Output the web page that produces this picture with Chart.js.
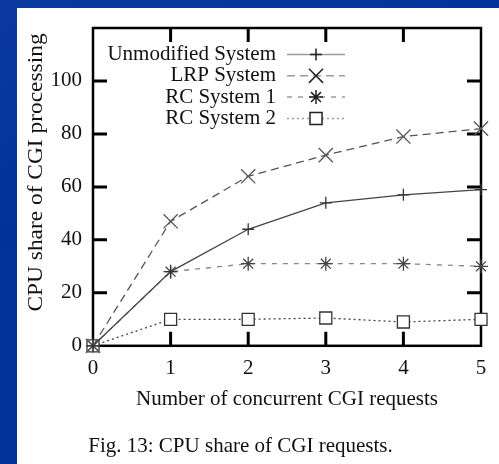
<!DOCTYPE html>
<html lang="en">
<head>
<meta charset="UTF-8">
<title>CPU share of CGI requests</title>
<script src="https://cdn.jsdelivr.net/npm/chart.js"></script>
<style>
  body {
    margin: 0;
    width: 499px;
    height: 464px;
    overflow: hidden;
    position: relative;
    background: linear-gradient(160deg, #0a3aa0 0%, #003399 35%, #00349b 100%);
  }
  .panel {
    position: absolute;
    left: 17px; top: 8px; right: 0; bottom: 0;
    background: #fff;
  }
  #cgiChart { position: absolute; left: 0; top: 0; }
</style>
</head>
<body>
<div class="panel"></div>
<canvas id="cgiChart" width="499" height="464"></canvas>
<script>
const requests = [0, 1, 2, 3, 4, 5];
const unmodified = [0, 28, 44, 54, 57, 59];
const lrp = [0, 47, 64, 72, 79, 82];
const rc1 = [0, 28, 31, 31, 31, 30];
const rc2 = [0, 10, 10, 10.5, 9, 10];
const seriesNames = ['Unmodified System', 'LRP System', 'RC System 1', 'RC System 2'];
const yTickValues = [0, 20, 40, 60, 80, 100];
const yTitle = 'CPU share of CGI processing';

const serif = "'Liberation Serif', 'Times New Roman', serif";
const pts = vals => requests.map((x, i) => ({ x: x, y: vals[i] }));

// inward ticks on all four sides + closed frame
const frame = {
    id: 'frame',
    beforeDatasetsDraw(chart) {
        const { ctx, chartArea: a, scales } = chart;
        ctx.save();
        ctx.strokeStyle = '#000';
        ctx.lineWidth = 3;
        yTickValues.forEach(v => {
            if (v === 0) return;
            const y = scales.y.getPixelForValue(v);
            ctx.beginPath();
            ctx.moveTo(a.left, y); ctx.lineTo(a.left + 14, y);
            ctx.moveTo(a.right, y); ctx.lineTo(a.right - 14, y);
            ctx.stroke();
        });
        requests.forEach(v => {
            if (v === 0 || v === 5) return;
            const x = scales.x.getPixelForValue(v);
            ctx.beginPath();
            ctx.moveTo(x, a.bottom); ctx.lineTo(x, a.bottom - 14);
            ctx.moveTo(x, a.top); ctx.lineTo(x, a.top + 14);
            ctx.stroke();
        });
        ctx.lineWidth = 2.5;
        ctx.strokeRect(a.left, a.top, a.right - a.left, a.bottom - a.top);
        ctx.restore();
    }
};

// rotated y title, a bit stretched like the scanned figure
const sideTitle = {
    id: 'sideTitle',
    afterDraw(chart) {
        const ctx = chart.ctx;
        ctx.save();
        ctx.translate(36.5, 172.5);
        ctx.rotate(-Math.PI / 2);
        ctx.scale(1.17, 1);
        ctx.font = '20px ' + serif;
        ctx.fillStyle = '#111';
        ctx.textAlign = 'center';
        ctx.textBaseline = 'middle';
        ctx.fillText(yTitle, 0, 0);
        ctx.restore();
    }
};

// gnuplot-style key: right aligned text, line sample, marker
const key = {
    id: 'key',
    afterDraw(chart) {
        const { ctx, chartArea: a } = chart;
        ctx.save();
        ctx.font = '21px ' + serif;
        ctx.textAlign = 'right';
        ctx.textBaseline = 'middle';
        chart.data.datasets.forEach((ds, i) => {
            const y = a.top + 26.5 + i * 21.3;
            ctx.fillStyle = '#111';
            ctx.fillText(ds.label, a.left + 183, y);
            ctx.strokeStyle = '#9a9a9a';
            ctx.lineWidth = 1.5;
            ctx.setLineDash(ds.borderDash || []);
            ctx.beginPath();
            ctx.moveTo(a.left + 194, y);
            ctx.lineTo(a.left + 252, y);
            ctx.stroke();
            ctx.setLineDash([]);
            ctx.strokeStyle = '#222';
            ctx.fillStyle = '#fff';
            Chart.helpers.drawPoint(ctx, {
                pointStyle: ds.pointStyle,
                radius: ds.pointRadius,
                rotation: 0,
                borderWidth: 1.3
            }, a.left + 223, y);
        });
        ctx.restore();
    }
};

new Chart(document.getElementById('cgiChart'), {
    type: 'line',
    data: {
        datasets: [{
            label: seriesNames[0],
            data: pts(unmodified),
            borderColor: '#444',
            borderWidth: 1.3,
            pointStyle: 'cross',
            pointRadius: 6,
            pointBorderColor: '#333',
            pointBorderWidth: 1.3
        }, {
            label: seriesNames[1],
            data: pts(lrp),
            borderColor: '#555',
            borderWidth: 1.3,
            borderDash: [8, 5],
            pointStyle: 'crossRot',
            pointRadius: 10,
            pointBorderColor: '#555',
            pointBorderWidth: 1.3
        }, {
            label: seriesNames[2],
            data: pts(rc1),
            borderColor: '#888',
            borderWidth: 1.3,
            borderDash: [5, 6],
            pointStyle: 'star',
            pointRadius: 7,
            pointBorderColor: '#444',
            pointBorderWidth: 1.3
        }, {
            label: seriesNames[3],
            data: pts(rc2),
            borderColor: '#444',
            borderWidth: 1.3,
            borderDash: [2, 3],
            pointStyle: 'rect',
            pointRadius: 8.5,
            pointBackgroundColor: '#fff',
            pointBorderColor: '#333',
            pointBorderWidth: 1.3
        }]
    },
    options: {
        responsive: false,
        animation: false,
        clip: false,
        layout: { padding: { top: 28, right: 18, left: 0, bottom: 0 } },
        plugins: {
            legend: { display: false },
            tooltip: { enabled: false },
            title: {
                display: true,
                position: 'bottom',
                text: 'Fig. 13: CPU share of CGI requests.',
                color: '#111',
                font: { family: serif, size: 21, weight: 'normal' },
                padding: { top: 0, bottom: 5 }
            }
        },
        scales: {
            x: {
                type: 'linear',
                min: 0,
                max: 5,
                afterFit: s => { s.height = 88; },
                grid: { display: false, drawTicks: false },
                border: { display: false },
                ticks: {
                    stepSize: 1,
                    padding: 10,
                    color: '#111',
                    font: { family: serif, size: 21 }
                },
                title: {
                    display: true,
                    text: 'Number of concurrent CGI requests',
                    color: '#111',
                    font: { family: serif, size: 21 },
                    padding: { top: 0, bottom: 22 }
                }
            },
            y: {
                min: 0,
                max: 120,
                afterFit: s => { s.width = 93; },
                grid: { display: false, drawTicks: false },
                border: { display: false },
                ticks: {
                    stepSize: 20,
                    padding: 11,
                    color: '#111',
                    font: { family: serif, size: 21 },
                    callback: v => yTickValues.includes(v) ? v : ''
                }
            }
        }
    },
    plugins: [frame, sideTitle, key]
});
</script>
</body>
</html>
